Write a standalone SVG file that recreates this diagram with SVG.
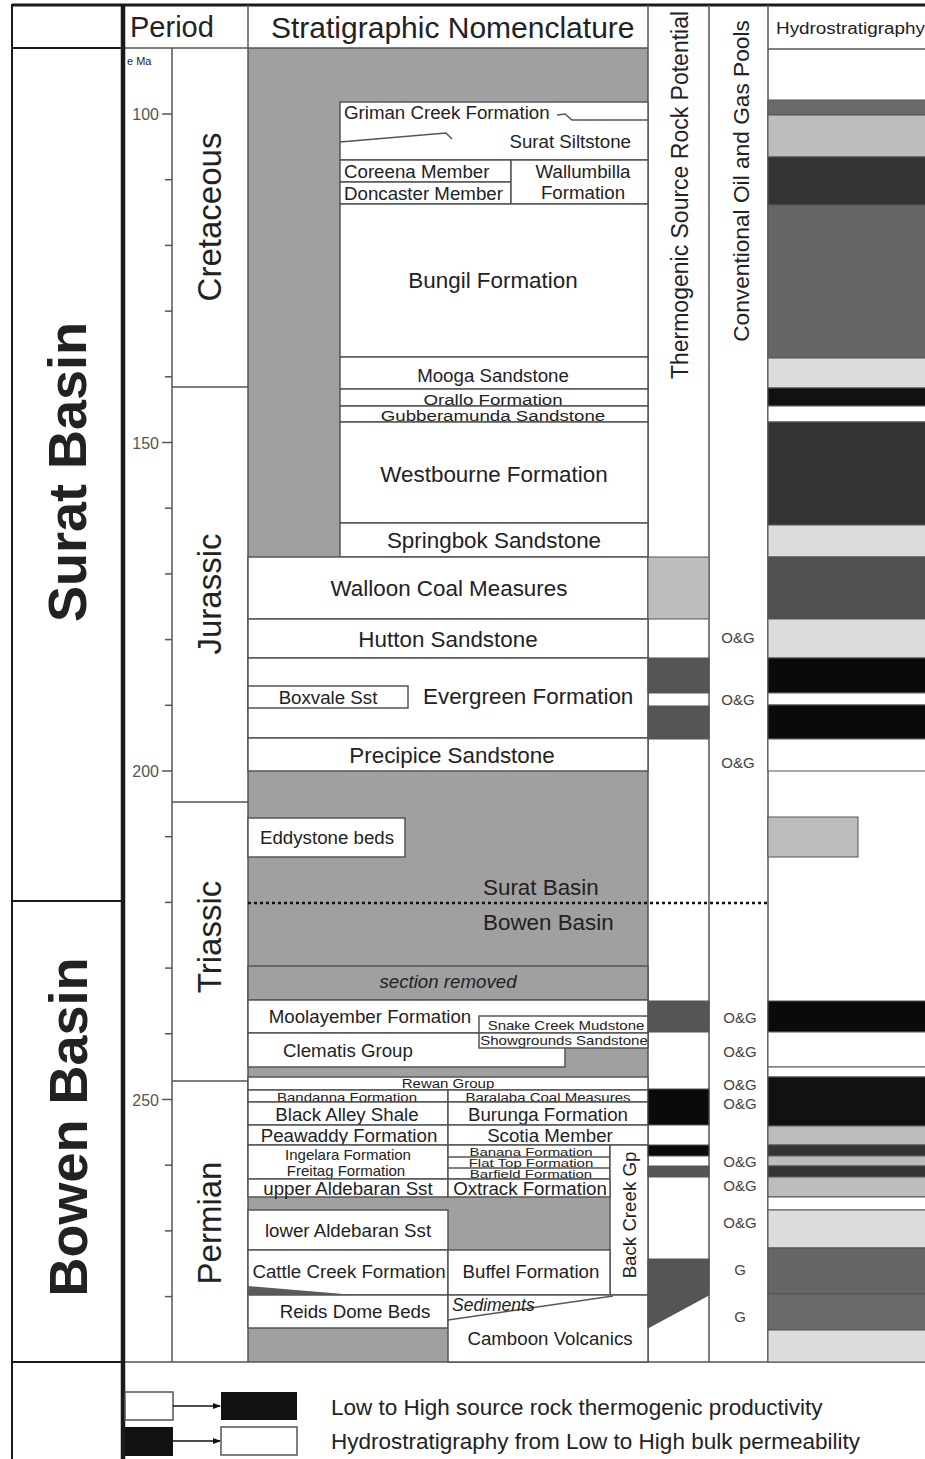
<svg xmlns="http://www.w3.org/2000/svg" width="925" height="1459" viewBox="0 0 925 1459">
<defs>
<marker id="ah" markerWidth="8" markerHeight="8" refX="7" refY="4" orient="auto" markerUnits="userSpaceOnUse"><path d="M0,1 L8,4 L0,7 z" fill="#111"/></marker>
</defs>
<style>
text{font-family:"Liberation Sans",Arial,sans-serif;fill:#222}
.L{font-size:22.4px}
.M{font-size:18.7px}
.S{font-size:15px}
.XS{font-size:14px}
.c{text-anchor:middle}
.e{text-anchor:end}
.it{font-style:italic}
.box{fill:#fff;stroke:#555;stroke-width:1.5}
.gbox{fill:#a0a0a0;stroke:#555;stroke-width:1.5}
.ln{stroke:#555;stroke-width:1.5;fill:none}
.fr{stroke:#1a1a1a;fill:none}
.band{stroke:#555;stroke-width:1}
.og{font-size:15px;fill:#444;text-anchor:middle}
.per{font-size:33px;text-anchor:middle}
.age{font-size:16px;fill:#555;text-anchor:end}
.tk{stroke:#555;stroke-width:1.5}
</style>
<rect x="0" y="0" width="925" height="1459" fill="#fff"/>

<g id="strat-background"><rect x="248" y="48" width="400" height="1314" fill="#a0a0a0"/></g>

<g id="frame">
<line class="fr" x1="12" y1="5" x2="925" y2="5" stroke-width="3"/>
<line class="fr" x1="12" y1="4" x2="12" y2="1459" stroke-width="2"/>
<line class="fr" x1="12" y1="48" x2="121" y2="48" stroke-width="2"/>
<line class="fr" x1="12" y1="901" x2="121" y2="901" stroke-width="2"/>
<line class="fr" x1="12" y1="1362" x2="121" y2="1362" stroke-width="2"/>
<line class="ln" x1="125" y1="48" x2="648" y2="48"/>
<line class="ln" x1="768" y1="49" x2="925" y2="49"/>
<line class="ln" x1="172" y1="48" x2="172" y2="1362"/>
<line class="ln" x1="248" y1="5" x2="248" y2="1362"/>
<line class="ln" x1="648" y1="5" x2="648" y2="1362"/>
<line class="ln" x1="709" y1="5" x2="709" y2="1362"/>
<line class="ln" x1="768" y1="5" x2="768" y2="1362"/>
<line class="ln" x1="125" y1="1362" x2="925" y2="1362"/>
<line class="ln" x1="172" y1="387" x2="248" y2="387"/>
<line class="ln" x1="172" y1="802" x2="248" y2="802"/>
<line class="ln" x1="172" y1="1081" x2="248" y2="1081"/>
<line class="fr" x1="123" y1="4" x2="123" y2="1459" stroke-width="4.5"/>
</g>

<g id="headers">
<text x="130" y="37" font-size="29">Period</text>
<text x="271" y="38" font-size="30">Stratigraphic Nomenclature</text>
<text transform="translate(688,195) rotate(-90)" font-size="23" text-anchor="middle">Thermogenic Source Rock Potential</text>
<text transform="translate(749,181) rotate(-90)" font-size="22.7" text-anchor="middle">Conventional Oil and Gas Pools</text>
<text x="776" y="34" font-size="16" textLength="149" lengthAdjust="spacingAndGlyphs">Hydrostratigraphy</text>
</g>

<g id="basins">
<text transform="translate(86,472) rotate(-90)" font-size="54" font-weight="bold" text-anchor="middle" fill="#111">Surat Basin</text>
<text transform="translate(87,1127) rotate(-90)" font-size="54" font-weight="bold" text-anchor="middle" fill="#111">Bowen Basin</text>
</g>

<g id="age-scale">
<text x="127" y="65" font-size="11" fill="#555">e Ma</text>
<text class="age" x="159" y="120">100</text>
<text class="age" x="159" y="449">150</text>
<text class="age" x="159" y="777">200</text>
<text class="age" x="159" y="1106">250</text>
<line class="tk" x1="162" y1="114" x2="172" y2="114"/>
<line class="tk" x1="165" y1="179.7" x2="172" y2="179.7"/>
<line class="tk" x1="165" y1="245.4" x2="172" y2="245.4"/>
<line class="tk" x1="165" y1="311.1" x2="172" y2="311.1"/>
<line class="tk" x1="165" y1="376.8" x2="172" y2="376.8"/>
<line class="tk" x1="162" y1="442.5" x2="172" y2="442.5"/>
<line class="tk" x1="165" y1="508.2" x2="172" y2="508.2"/>
<line class="tk" x1="165" y1="573.9" x2="172" y2="573.9"/>
<line class="tk" x1="165" y1="639.6" x2="172" y2="639.6"/>
<line class="tk" x1="165" y1="705.3" x2="172" y2="705.3"/>
<line class="tk" x1="162" y1="771" x2="172" y2="771"/>
<line class="tk" x1="165" y1="836.7" x2="172" y2="836.7"/>
<line class="tk" x1="165" y1="902.4" x2="172" y2="902.4"/>
<line class="tk" x1="165" y1="968.1" x2="172" y2="968.1"/>
<line class="tk" x1="165" y1="1033.8" x2="172" y2="1033.8"/>
<line class="tk" x1="162" y1="1099.5" x2="172" y2="1099.5"/>
<line class="tk" x1="165" y1="1165.2" x2="172" y2="1165.2"/>
<line class="tk" x1="165" y1="1230.9" x2="172" y2="1230.9"/>
<line class="tk" x1="165" y1="1296.6" x2="172" y2="1296.6"/>
</g>

<g id="periods">
<text class="per" transform="translate(221,217) rotate(-90)">Cretaceous</text>
<text class="per" transform="translate(221,594) rotate(-90)">Jurassic</text>
<text class="per" transform="translate(221,937) rotate(-90)">Triassic</text>
<text class="per" transform="translate(221,1223) rotate(-90)">Permian</text>
</g>

<g id="griman-surat">
<rect class="box" x="340" y="102" width="308" height="58"/>
<path class="ln" d="M340,142 L446,133 L452,139"/>
<path class="ln" d="M648,120 L572,120 L565,114 L557,115"/>
<text class="M" x="344" y="119">Griman Creek Formation</text>
<text class="M e" x="631" y="148">Surat Siltstone</text>
</g>
<g id="coreena"><rect class="box" x="340" y="160" width="171" height="22"/><text class="M" x="344" y="178">Coreena Member</text></g>
<g id="doncaster"><rect class="box" x="340" y="182" width="171" height="22"/><text class="M" x="344" y="200">Doncaster Member</text></g>
<g id="wallumbilla"><rect class="box" x="511" y="160" width="137" height="44"/><text class="M c" x="583" y="178">Wallumbilla</text><text class="M c" x="583" y="199">Formation</text></g>
<g id="bungil"><rect class="box" x="340" y="204" width="308" height="153"/><text class="L c" x="493" y="288">Bungil Formation</text></g>
<g id="mooga"><rect class="box" x="340" y="357" width="308" height="32"/><text class="M c" x="493" y="382">Mooga Sandstone</text></g>
<g id="orallo"><rect class="box" x="340" y="389" width="308" height="17"/><text class="M c" transform="translate(493,404.5) scale(1,0.8)">Orallo Formation</text></g>
<g id="gubberamunda"><rect class="box" x="340" y="406" width="308" height="16"/><text class="M c" transform="translate(493,421) scale(1,0.8)">Gubberamunda Sandstone</text></g>
<g id="westbourne"><rect class="box" x="340" y="422" width="308" height="101"/><text class="L c" x="494" y="482">Westbourne Formation</text></g>
<g id="springbok"><rect class="box" x="340" y="523" width="308" height="34"/><text class="L c" x="494" y="548">Springbok Sandstone</text></g>
<g id="walloon"><rect class="box" x="248" y="557" width="400" height="62"/><text class="L c" x="449" y="596">Walloon Coal Measures</text></g>
<g id="hutton"><rect class="box" x="248" y="619" width="400" height="39"/><text class="L c" x="448" y="647">Hutton Sandstone</text></g>
<g id="evergreen"><rect class="box" x="248" y="658" width="400" height="80"/><text class="L" x="423" y="704">Evergreen Formation</text></g>
<g id="boxvale"><rect class="box" x="248" y="686" width="160" height="22"/><text class="M c" x="328" y="704">Boxvale Sst</text></g>
<g id="precipice"><rect class="box" x="248" y="738" width="400" height="33"/><text class="L c" x="452" y="763">Precipice Sandstone</text></g>
<g id="eddystone"><rect class="box" x="248" y="818" width="157" height="39"/><text class="M" x="260" y="844">Eddystone beds</text></g>
<g id="basin-boundary">
<line x1="248" y1="903" x2="770" y2="903" stroke="#111" stroke-width="2.5" stroke-dasharray="3 3"/>
<text class="L" x="483" y="895">Surat Basin</text>
<text class="L" x="483" y="930">Bowen Basin</text>
</g>
<g id="section-removed"><rect class="gbox" x="248" y="966" width="400" height="34"/><text class="M c it" x="448" y="988">section removed</text></g>
<g id="moolayember"><rect class="box" x="248" y="1000" width="400" height="33"/><text class="M c" x="370" y="1023">Moolayember Formation</text></g>
<g id="clematis"><rect class="box" x="248" y="1033" width="317" height="34"/><text class="M c" x="348" y="1057">Clematis Group</text></g>
<g id="snake-creek"><rect class="box" x="479" y="1016" width="169" height="17"/><text class="S c" transform="translate(566,1029.5) scale(1,0.85)">Snake Creek Mudstone</text></g>
<g id="showgrounds"><rect class="box" x="479" y="1033" width="169" height="15"/><text class="S c" transform="translate(564,1045) scale(1,0.85)">Showgrounds Sandstone</text></g>
<g id="rewan"><rect class="box" x="248" y="1077" width="400" height="13"/><text class="S c" transform="translate(448,1088) scale(1,0.8)">Rewan Group</text></g>
<g id="bandanna"><rect class="box" x="248" y="1090" width="200" height="12"/><text class="S c" transform="translate(347,1101.5) scale(1,0.8)">Bandanna Formation</text></g>
<g id="baralaba"><rect class="box" x="448" y="1090" width="200" height="12"/><text class="S c" transform="translate(548,1101.5) scale(1,0.8)">Baralaba Coal Measures</text></g>
<g id="black-alley"><rect class="box" x="248" y="1102" width="200" height="23"/><text class="M c" x="347" y="1121">Black Alley Shale</text></g>
<g id="burunga"><rect class="box" x="448" y="1102" width="200" height="23"/><text class="M c" x="548" y="1121">Burunga Formation</text></g>
<g id="peawaddy"><rect class="box" x="248" y="1125" width="200" height="20"/><text class="M c" x="349" y="1142">Peawaddy Formation</text></g>
<g id="scotia"><rect class="box" x="448" y="1125" width="200" height="20"/><text class="M c" x="550" y="1142">Scotia Member</text></g>
<g id="ingelara-freitag"><rect class="box" x="248" y="1145" width="200" height="34"/><text class="S c" x="348" y="1160">Ingelara Formation</text><text class="S c" x="346" y="1176">Freitag Formation</text></g>
<g id="banana-flattop-barfield">
<rect class="box" x="448" y="1145" width="162" height="34"/>
<line class="ln" x1="448" y1="1157" x2="610" y2="1157" stroke-width="1"/>
<line class="ln" x1="448" y1="1168" x2="610" y2="1168" stroke-width="1"/>
<text class="S c" transform="translate(531,1155.5) scale(1,0.72)">Banana Formation</text>
<text class="S c" transform="translate(531,1166.5) scale(1,0.72)">Flat Top Formation</text>
<text class="S c" transform="translate(531,1177.5) scale(1,0.72)">Barfield Formation</text>
</g>
<g id="back-creek"><rect class="box" x="610" y="1145" width="38" height="150"/><text class="M c" transform="translate(636,1215) rotate(-90)">Back Creek Gp</text></g>
<g id="upper-aldebaran"><rect class="box" x="248" y="1179" width="200" height="18"/><text class="M c" x="348" y="1195">upper Aldebaran Sst</text></g>
<g id="oxtrack"><rect class="box" x="448" y="1179" width="162" height="18"/><text class="M c" x="530" y="1195">Oxtrack Formation</text></g>
<g id="lower-aldebaran"><rect class="box" x="248" y="1210" width="200" height="40"/><text class="M c" x="348" y="1237">lower Aldebaran Sst</text></g>
<g id="cattle-creek"><rect class="box" x="248" y="1250" width="200" height="45"/><polygon points="248,1286 355,1295 248,1295" fill="#5a5a5a"/><text class="M c" x="349" y="1278">Cattle Creek Formation</text></g>
<g id="buffel"><rect class="box" x="448" y="1250" width="162" height="45"/><text class="M c" x="531" y="1278">Buffel Formation</text></g>
<g id="reids-dome"><rect class="box" x="248" y="1295" width="200" height="33"/><text class="M c" x="355" y="1318">Reids Dome Beds</text></g>
<g id="camboon"><rect class="box" x="448" y="1295" width="200" height="67"/><line class="ln" x1="448" y1="1320" x2="613" y2="1296"/><text class="it" x="452" y="1311" font-size="17.5">Sediments</text><text class="M c" x="550" y="1345">Camboon Volcanics</text></g>

<g id="thermogenic">
<rect class="band" x="648" y="557" width="61" height="62" fill="#bdbdbd"/>
<rect class="band" x="648" y="658" width="61" height="35" fill="#555"/>
<rect class="band" x="648" y="706" width="61" height="33" fill="#555"/>
<rect class="band" x="648" y="1001" width="61" height="31" fill="#555"/>
<rect class="band" x="648" y="1089" width="61" height="36" fill="#0a0a0a"/>
<rect class="band" x="648" y="1145" width="61" height="11" fill="#0a0a0a"/>
<rect class="band" x="648" y="1166" width="61" height="11" fill="#555"/>
<rect class="band" x="648" y="1259" width="61" height="36" fill="#555"/>
<polygon class="band" points="648,1295 709,1295 648,1328" fill="#555"/>
</g>

<g id="oil-gas-pools">
<text class="og" x="738" y="643">O&amp;G</text>
<text class="og" x="738" y="705">O&amp;G</text>
<text class="og" x="738" y="768">O&amp;G</text>
<text class="og" x="740" y="1023">O&amp;G</text>
<text class="og" x="740" y="1057">O&amp;G</text>
<text class="og" x="740" y="1090">O&amp;G</text>
<text class="og" x="740" y="1109">O&amp;G</text>
<text class="og" x="740" y="1167">O&amp;G</text>
<text class="og" x="740" y="1191">O&amp;G</text>
<text class="og" x="740" y="1228">O&amp;G</text>
<text class="og" x="740" y="1275">G</text>
<text class="og" x="740" y="1322">G</text>
</g>

<g id="hydrostratigraphy">
<rect class="band" x="768" y="100" width="160" height="15" fill="#6a6a6a"/>
<rect class="band" x="768" y="115" width="160" height="42" fill="#bdbdbd"/>
<rect class="band" x="768" y="157" width="160" height="48" fill="#333"/>
<rect class="band" x="768" y="205" width="160" height="153" fill="#666"/>
<rect class="band" x="768" y="358" width="160" height="30" fill="#dcdcdc"/>
<rect class="band" x="768" y="388" width="160" height="18" fill="#111"/>
<rect class="band" x="768" y="406" width="160" height="16" fill="#fff"/>
<rect class="band" x="768" y="422" width="160" height="103" fill="#333"/>
<rect class="band" x="768" y="525" width="160" height="32" fill="#dcdcdc"/>
<rect class="band" x="768" y="557" width="160" height="62" fill="#505050"/>
<rect class="band" x="768" y="619" width="160" height="39" fill="#dcdcdc"/>
<rect class="band" x="768" y="658" width="160" height="35" fill="#0a0a0a"/>
<rect class="band" x="768" y="693" width="160" height="12" fill="#fff"/>
<rect class="band" x="768" y="705" width="160" height="34" fill="#0a0a0a"/>
<rect class="band" x="768" y="739" width="160" height="32" fill="#fff"/>
<rect class="band" x="768" y="817" width="90" height="40" fill="#bdbdbd"/>
<rect class="band" x="768" y="1001" width="160" height="31" fill="#0a0a0a"/>
<rect class="band" x="768" y="1032" width="160" height="35" fill="#fff"/>
<rect class="band" x="768" y="1067" width="160" height="10" fill="#fff"/>
<rect class="band" x="768" y="1077" width="160" height="49" fill="#111"/>
<rect class="band" x="768" y="1126" width="160" height="19" fill="#bdbdbd"/>
<rect class="band" x="768" y="1145" width="160" height="11" fill="#333"/>
<rect class="band" x="768" y="1156" width="160" height="10" fill="#bdbdbd"/>
<rect class="band" x="768" y="1166" width="160" height="11" fill="#333"/>
<rect class="band" x="768" y="1177" width="160" height="20" fill="#bdbdbd"/>
<rect class="band" x="768" y="1197" width="160" height="13" fill="#fff"/>
<rect class="band" x="768" y="1210" width="160" height="38" fill="#dcdcdc"/>
<rect class="band" x="768" y="1248" width="160" height="46" fill="#666"/>
<rect class="band" x="768" y="1294" width="160" height="36" fill="#6a6a6a"/>
<rect class="band" x="768" y="1330" width="160" height="32" fill="#dcdcdc"/>
</g>

<g id="legend">
<rect x="125" y="1392" width="48" height="28" fill="#fff" stroke="#555" stroke-width="1.5"/>
<rect x="125" y="1427" width="48" height="29" fill="#111"/>
<rect x="221" y="1392" width="76" height="28" fill="#111"/>
<rect x="221" y="1427" width="76" height="28" fill="#fff" stroke="#555" stroke-width="1.5"/>
<text x="331" y="1415" font-size="22.5">Low to High source rock thermogenic productivity</text>
<text x="331" y="1449" font-size="22.5">Hydrostratigraphy from Low to High bulk permeability</text>
</g>

<g id="connectors">
<line x1="173" y1="1406" x2="220" y2="1406" stroke="#111" stroke-width="1.5" marker-end="url(#ah)"/>
<line x1="173" y1="1441" x2="220" y2="1441" stroke="#111" stroke-width="1.5" marker-end="url(#ah)"/>
</g>
</svg>
